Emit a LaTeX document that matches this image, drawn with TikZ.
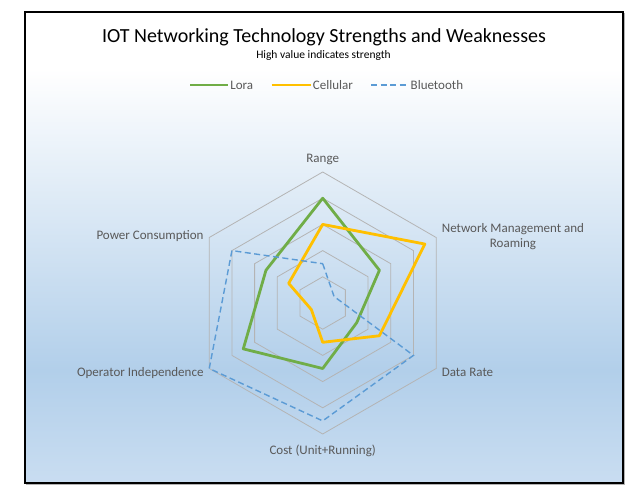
\documentclass[tikz,border=0pt]{standalone}
\usepackage{fontspec}
\setmainfont{Carlito}
\definecolor{loragreen}{HTML}{70AD47}
\definecolor{cellyellow}{HTML}{FFC000}
\definecolor{btblue}{HTML}{5B9BD5}
\definecolor{gridgray}{HTML}{B4B4B4}
\definecolor{labelgray}{HTML}{595959}
\definecolor{bgmid}{HTML}{B2CFEA}
\definecolor{bgbot}{HTML}{C9DDF1}
\pgfdeclareverticalshading{chartbg}{100bp}{color(0bp)=(bgbot); color(25bp)=(bgbot); color(37bp)=(bgmid); color(69bp)=(white); color(100bp)=(white)}
\newcommand{\unitr}{26.2}
\tikzset{
  loraline/.style={loragreen,line width=2.8pt,line join=round},
  cellline/.style={cellyellow,line width=2.8pt,line join=round},
  btline/.style={btblue,line width=1.4pt,dash pattern=on 6pt off 3.5pt},
  axislabel/.style={labelgray,font=\fontsize{13}{15}\selectfont,inner sep=1pt},
}
\begin{document}
\begin{tikzpicture}[x=1pt,y=1pt]
  \useasboundingbox (0,0) rectangle (640,501);
  % chart area
  \draw[gray!60,line width=1.5pt] (26.5,16.5) rectangle (624.5,487.5);
  \shade[shading=chartbg] (25,18) rectangle (623,489);
  \draw[black,line width=1.4pt] (25,18) rectangle (623,489);
  % titles
  \node (title) at (324,463.5) {\fontsize{20}{24}\selectfont IOT Networking Technology Strengths and Weaknesses};
  \node (subtitle) at (323.5,446) {\fontsize{11.5}{14}\selectfont High value indicates strength};
  % legend
  \draw[loraline,line cap=butt] (190,416) -- (228,416) node[axislabel,right] (lgLora) {Lora};
  \draw[cellline,line cap=butt] (271.5,416) -- (310.5,416) node[axislabel,right] (lgCell) {Cellular};
  \draw[btline] (371,416) -- (409,416) node[axislabel,right] (lgBt) {Bluetooth};
  \begin{scope}[shift={(322.7,198)}]
    % grid
    \foreach \r in {1,...,5} {
      \draw[gridgray,line width=0.8pt] (90:\r*\unitr) \foreach \a in {30,-30,-90,-150,150} { -- (\a:\r*\unitr) } -- cycle;
    }
    % series
    \draw[loraline] (90:4*\unitr) -- (30:2.5*\unitr) -- (-30:1.5*\unitr) -- (-90:2.5*\unitr) -- (-150:3.5*\unitr) -- (150:2.5*\unitr) -- cycle;
    \draw[cellline] (90:3*\unitr) -- (30:4.5*\unitr) -- (-30:2.5*\unitr) -- (-90:1.5*\unitr) -- (-150:0.5*\unitr) -- (150:1.5*\unitr) -- cycle;
    \draw[btline] (90:1.5*\unitr) -- (30:0.5*\unitr) -- (-30:4*\unitr) -- (-90:4.5*\unitr) -- (-150:5*\unitr) -- (150:4*\unitr) -- cycle;
    % axis labels
    \node[axislabel,anchor=south] (axRange) at (90:5.25*\unitr) {Range};
    \node[axislabel,anchor=west,align=center,yshift=-1.5pt] (axNet) at (30:5.2*\unitr) {Network Management and\\Roaming};
    \node[axislabel,anchor=west,yshift=-1.5pt] (axRate) at (-30:5.2*\unitr) {Data Rate};
    \node[axislabel,anchor=north] (axCost) at (-90:5.38*\unitr) {Cost (Unit+Running)};
    \node[axislabel,anchor=east,yshift=-1.5pt] (axOper) at (-150:5.2*\unitr) {Operator Independence};
    \node[axislabel,anchor=east,yshift=-1.5pt] (axPower) at (150:5.2*\unitr) {Power Consumption};
  \end{scope}
\end{tikzpicture}
\end{document}
